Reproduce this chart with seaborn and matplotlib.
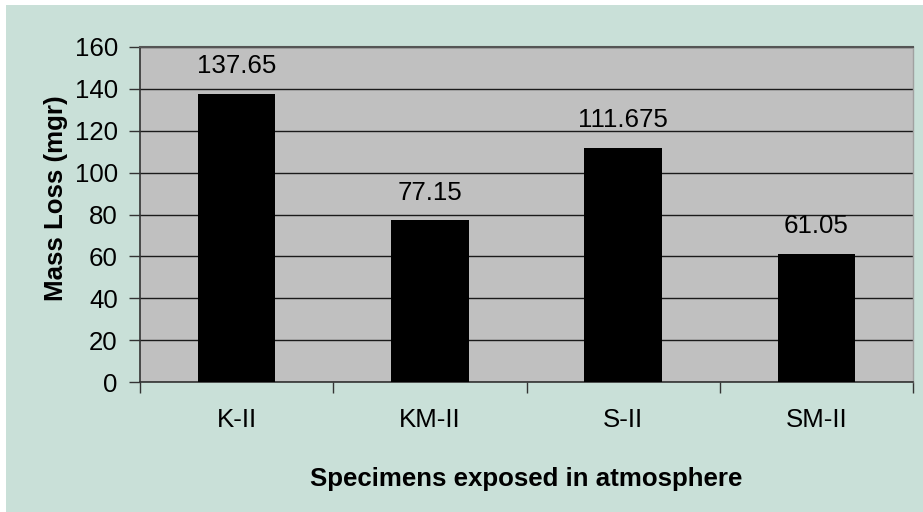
import matplotlib
matplotlib.use("Agg")
import matplotlib.pyplot as plt
from matplotlib.patches import Rectangle
import seaborn as sns
import pandas as pd
import numpy as np

# Mass loss of specimens after atmospheric exposure
specimens = ["K-II", "KM-II", "S-II", "SM-II"]
mass_loss = [137.65, 77.15, 111.675, 61.05]
value_labels = ["137.65", "77.15", "111.675", "61.05"]
y_ticks = [0, 20, 40, 60, 80, 100, 120, 140, 160]

df = pd.DataFrame({"specimen": specimens, "loss": mass_loss})

sns.set_theme(style="white")
plt.rcParams["font.family"] = ["Liberation Sans", "DejaVu Sans"]
plt.rcParams["text.color"] = "black"
plt.rcParams["axes.labelcolor"] = "black"
plt.rcParams["xtick.color"] = "black"
plt.rcParams["ytick.color"] = "black"

FS = 18.6

fig = plt.figure(figsize=(9.23, 5.12), dpi=100, facecolor="white")
# green chart panel
fig.patches.append(Rectangle((6 / 923, 0), 1, 1 - 5 / 512, transform=fig.transFigure,
                             facecolor="#c9e0d8", edgecolor="none", zorder=-10))

ax = fig.add_axes([140 / 923, 1 - 382 / 512, (913 - 140) / 923, (382 - 47) / 512])
ax.set_facecolor("#c0c0c0")

sns.barplot(data=df, x="specimen", y="loss", color="black", width=0.40,
            saturation=1, edgecolor="black", linewidth=0, ax=ax, zorder=3)

ax.set_ylim(0, 160)
ax.set_xlim(-0.5, len(specimens) - 0.5)
ax.set_yticks(y_ticks)
ax.yaxis.grid(True, color="#1a1a1a", linewidth=1.0, zorder=1)
ax.set_axisbelow(True)

for i, (v, lab) in enumerate(zip(mass_loss, value_labels)):
    ax.annotate(lab, (i, v), xytext=(0, 20), textcoords="offset points",
                ha="center", va="center", fontsize=FS, color="black")

# tick marks between categories
ax.set_xticks(np.arange(-0.5, len(specimens)), minor=True)
ax.tick_params(axis="x", which="major", length=0, pad=19, labelsize=FS, labelcolor="black")
ax.tick_params(axis="x", which="minor", length=8, width=1, color="#333333",
               direction="out", bottom=True)
ax.tick_params(axis="y", which="major", length=8, width=1, color="#333333",
               direction="out", left=True, pad=8, labelsize=FS, labelcolor="black")

for side in ["left", "bottom"]:
    ax.spines[side].set_color("#333333")
    ax.spines[side].set_linewidth(1.2)
ax.spines["top"].set_color("#555555")
ax.spines["top"].set_linewidth(1.5)
ax.spines["right"].set_color("#a0a0a0")
ax.spines["right"].set_linewidth(1.0)
for s in ax.spines.values():
    s.set_visible(True)

ax.set_xlabel("Specimens exposed in atmosphere", fontsize=FS, fontweight="bold", color="black")
ax.set_ylabel("Mass Loss (mgr)", fontsize=FS, fontweight="bold", color="black")
ax.xaxis.set_label_coords(0.5, (382 - 467) / 335, transform=ax.transAxes)
ax.yaxis.set_label_coords((68 - 140) / 773, (382 - 198) / 335, transform=ax.transAxes)

fig.savefig("out.png", dpi=100, facecolor=fig.get_facecolor())
